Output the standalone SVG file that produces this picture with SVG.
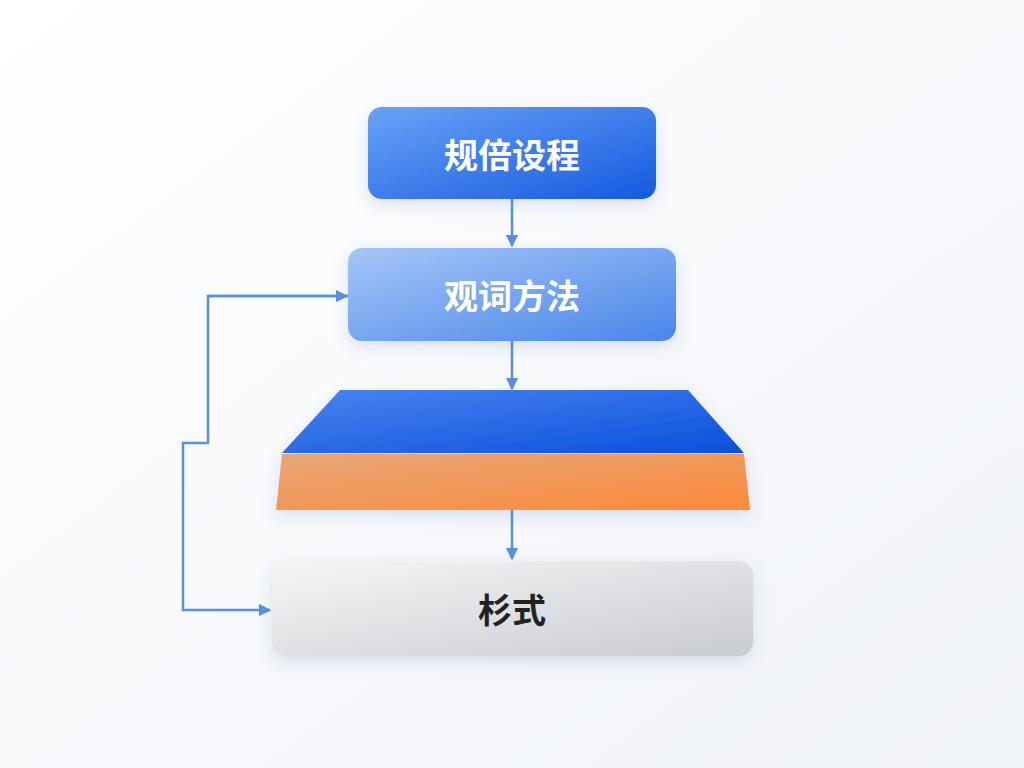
<svg xmlns="http://www.w3.org/2000/svg" width="1024" height="768" viewBox="0 0 1024 768">
<style>
.t{font-family:"Noto Sans CJK SC","Liberation Sans",sans-serif;font-weight:700;font-size:34px;text-anchor:middle;dominant-baseline:central}
.c{fill:none;stroke:#5a8ee0;stroke-width:2.5}
</style>
<defs>
<linearGradient id="g1" x1="0" y1="0" x2="1" y2="1"><stop offset="0" stop-color="#6aa3f6"/><stop offset="1" stop-color="#1559e0"/></linearGradient>
<linearGradient id="g2" x1="0" y1="0" x2="1" y2="1"><stop offset="0" stop-color="#a6c6f8"/><stop offset="1" stop-color="#4a86e8"/></linearGradient>
<linearGradient id="g3" x1="0" y1="0" x2="1" y2="1"><stop offset="0" stop-color="#4a84ee"/><stop offset="1" stop-color="#0b50dd"/></linearGradient>
<linearGradient id="g4" x1="0" y1="0" x2="1" y2="1"><stop offset="0" stop-color="#e8a678"/><stop offset="1" stop-color="#fb8a3a"/></linearGradient>
<linearGradient id="g5" x1="0" y1="0" x2="1" y2="1"><stop offset="0" stop-color="#f6f6f6"/><stop offset="1" stop-color="#c8cbd1"/></linearGradient>
<linearGradient id="bg" x1="0" y1="0" x2="1" y2="1"><stop offset="0" stop-color="#ffffff"/><stop offset="1" stop-color="#f0f3f8"/></linearGradient>
<marker id="a" viewBox="0 0 10 10" refX="9" refY="5" markerWidth="5" markerHeight="5" orient="auto"><path d="M0 0L10 5L0 10z" fill="#5a8ee0"/></marker>
<filter id="s" x="-20%" y="-30%" width="140%" height="170%"><feDropShadow dx="0" dy="6" stdDeviation="8" flood-color="#4a6fb0" flood-opacity="0.18"/></filter>
</defs>
<rect width="1024" height="768" fill="url(#bg)"/>
<g id="connectors">
<path class="c" d="M512 199V246" marker-end="url(#a)"/>
<path class="c" d="M512 341V389" marker-end="url(#a)"/>
<path class="c" d="M512 510V559" marker-end="url(#a)"/>
<path class="c" d="M348 296H208V443H183V610H270" marker-start="none" marker-end="url(#a)"/>
<path class="c" d="M208 296H347" marker-end="url(#a)"/>
</g>
<g id="n1"><rect x="368" y="107" width="288" height="92" rx="14" fill="url(#g1)" filter="url(#s)"/><text class="t" x="512" y="153" fill="#fff">规倍设程</text></g>
<g id="n2"><rect x="348" y="248" width="328" height="93" rx="14" fill="url(#g2)" filter="url(#s)"/><text class="t" x="512" y="294" fill="#fff">观词方法</text></g>
<g id="n3"><polygon points="340,390 688,390 744,453 282,453" fill="url(#g3)" filter="url(#s)"/></g>
<g id="n4"><polygon points="282,454 744,454 750,510 276,510" fill="url(#g4)" filter="url(#s)"/></g>
<g id="n5"><rect x="272" y="561" width="481" height="95" rx="14" fill="url(#g5)" filter="url(#s)"/><text class="t" x="512" y="608" fill="#222">杉式</text></g>
</svg>
